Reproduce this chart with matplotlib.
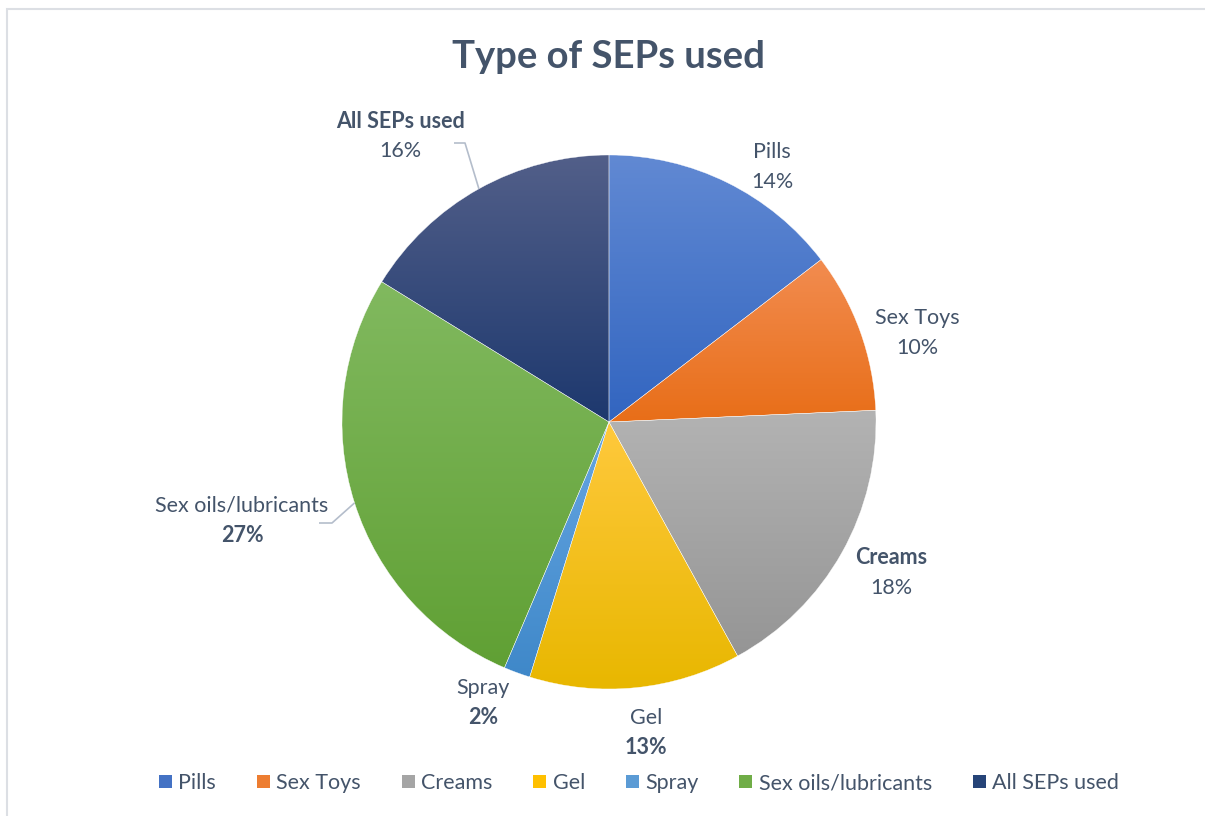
import numpy as np
import matplotlib
matplotlib.use("Agg")
import matplotlib.pyplot as plt
from matplotlib.colors import LinearSegmentedColormap
from matplotlib.patches import Rectangle, Patch

# ---------------- data ----------------
categories = ["Pills", "Sex Toys", "Creams", "Gel", "Spray",
              "Sex oils/lubricants", "All SEPs used"]
values = [14.6, 9.7, 17.7, 12.8, 1.6, 27.4, 16.2]
pct_labels = ["14%", "10%", "18%", "13%", "2%", "27%", "16%"]

# ---------------- style ----------------
base_colors = ["#4472C4", "#ED7D31", "#A5A5A5", "#FFC000", "#5B9BD5", "#70AD47", "#264478"]
top_colors = ["#6189D3", "#F28C50", "#B3B3B3", "#FFC93D", "#66A6E2", "#81B95F", "#525F89"]
bottom_colors = ["#3265C0", "#E86E18", "#959595", "#E8B700", "#3F88C9", "#60A034", "#1D386E"]
name_bold = [False, False, True, False, False, False, True]
pct_bold = [False, False, False, True, True, True, False]
TEXT = "#44546A"
FONT = ["Lato", "DejaVu Sans"]
LABEL_FS = 15.5

W, H = 1205, 816
cx, cy, R = 609, 422, 267            # pie centre / radius in pixels (layout)
# label centres (pixel, name line) and optional leader elbows (layout)
label_pos = [(772, 152), (917, 318), (891, 558), (646, 718), (483, 688), (242, 506), (400, 121)]
leaders = {5: [(319, 523), (332, 523)], 6: [(454, 143), (465, 143)]}
line_gap = 29.5

plt.rcParams['font.family'] = FONT
fig = plt.figure(figsize=(W / 100, H / 100), dpi=100)
ax = fig.add_axes([0, 0, 1, 1])


def px(x, y):
    return ((x - cx) / R, (cy - y) / R)


wedges, _ = ax.pie(values, startangle=90, counterclock=False, radius=1, center=(0, 0))

for w, tc, bc in zip(wedges, top_colors, bottom_colors):
    ext = w.get_path().get_extents()
    grad = np.linspace(0, 1, 256)[:, None]
    cmap = LinearSegmentedColormap.from_list("g", [bc, tc])
    im = ax.imshow(grad, cmap=cmap, extent=[ext.x0, ext.x1, ext.y0, ext.y1],
                   origin="lower", aspect="auto", zorder=1, interpolation="bilinear")
    im.set_clip_path(w)
    w.set_facecolor("none")
    w.set_edgecolor("#FFFFFF")
    w.set_alpha(None)
    w.set_linewidth(0.25)
    w.set_zorder(2)

ax.set_aspect("auto")
ax.set_xlim(-cx / R, (W - cx) / R)
ax.set_ylim(-(H - cy) / R, cy / R)
ax.axis("off")

# data labels
for i, (name, pct) in enumerate(zip(categories, pct_labels)):
    lx, ly = label_pos[i]
    ax.text(*px(lx, ly), name, ha="center", va="center", fontsize=LABEL_FS, color=TEXT,
            fontweight="bold" if name_bold[i] else "normal", zorder=5)
    ax.text(*px(lx, ly + line_gap), pct, ha="center", va="center", fontsize=LABEL_FS, color=TEXT,
            fontweight="bold" if pct_bold[i] else "normal", zorder=5)

# leader lines to wedge rim at mid-angle
for i, pts in leaders.items():
    w = wedges[i]
    mid = np.deg2rad((w.theta1 + w.theta2) / 2)
    rim = (np.cos(mid), np.sin(mid))
    xs = [px(*p)[0] for p in pts] + [rim[0]]
    ys = [px(*p)[1] for p in pts] + [rim[1]]
    ax.plot(xs, ys, color="#B4BDCB", lw=1.2, zorder=3, solid_capstyle="butt")

# title
fig.text(cx / W, 1 - 57 / H, "Type of SEPs used", ha="center", va="center",
         fontsize=27.5, fontweight="bold", color=TEXT)

# legend
handles = [Patch(facecolor=c, edgecolor="none") for c in base_colors]
fig.legend(handles, categories, loc="center", bbox_to_anchor=(639 / W, 1 - 783 / H),
           ncol=7, frameon=False, fontsize=LABEL_FS, labelcolor=TEXT,
           handlelength=0.6, handleheight=0.6, handletextpad=0.3, columnspacing=1.9)

# chart-area border
fig.add_artist(Rectangle((7 / W, -0.05), 1.2, 1 - 9 / H + 0.05, transform=fig.transFigure,
                         fill=False, edgecolor="#DCDFE4", lw=1.5))

fig.savefig("out.png", dpi=100)
